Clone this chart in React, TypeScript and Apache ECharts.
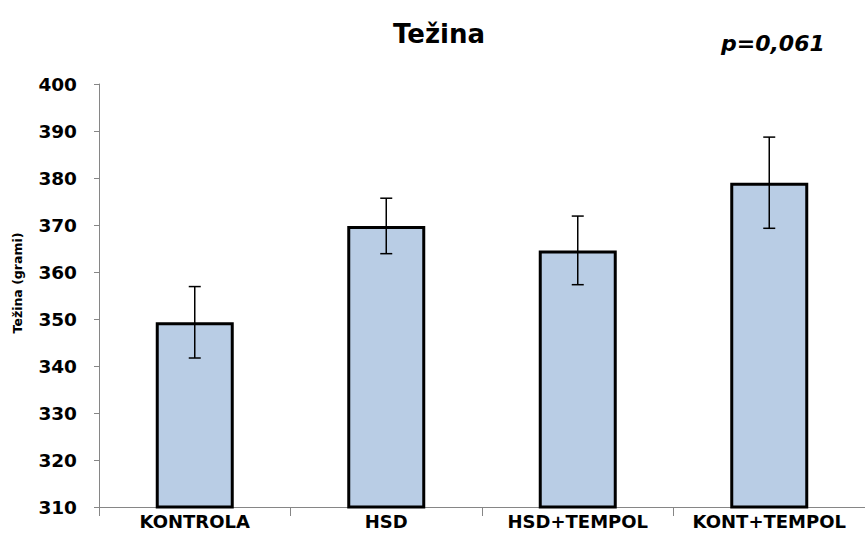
import React, { useEffect, useRef } from "react";
import * as echarts from "echarts";

const categories = ["KONTROLA", "HSD", "HSD+TEMPOL", "KONT+TEMPOL"];
const means = [349.3, 369.8, 364.6, 379.0];
const errors = [7.6, 5.9, 7.3, 9.7];
const yTicks = { min: 310, max: 400, interval: 10 };
const titleText = "Težina";
const pText = "p=0,061";
const yName = "Težina (grami)";

const FONT = "DejaVu Sans";

export default function App() {
  const ref = useRef<HTMLDivElement>(null);
  useEffect(() => {
    if (!ref.current) return;
    const chart = echarts.init(ref.current, undefined, { renderer: "svg" });
    const errData = means.map((m, i) => [i, m - errors[i], m + errors[i]]);
    chart.setOption({
      animation: false,
      backgroundColor: "#ffffff",
      title: {
        text: titleText,
        left: 388,
        top: 16,
        textStyle: { fontFamily: FONT, fontSize: 26, fontWeight: "bold", color: "#000" },
      },
      graphic: [
        {
          type: "text",
          left: 721,
          top: 32,
          style: { text: pText, font: `italic bold 22px '${FONT}'`, fill: "#000" },
        },
        {
          type: "text",
          x: 17,
          y: 283,
          rotation: Math.PI / 2,
          style: {
            text: yName,
            font: `bold 12.5px '${FONT}'`,
            fill: "#000",
            align: "center",
            verticalAlign: "middle",
          },
        },
      ],
      grid: { left: 99, top: 84, right: -6, bottom: 43, containLabel: false },
      xAxis: {
        type: "category",
        data: categories,
        axisLine: { lineStyle: { color: "#868686", width: 1 } },
        axisTick: { show: true, length: 9, alignWithLabel: false, lineStyle: { color: "#868686" } },
        axisLabel: {
          interval: 0,
          hideOverlap: false,
          fontFamily: FONT,
          fontSize: 18,
          fontWeight: "bold",
          color: "#000",
          margin: 5,
        },
      },
      yAxis: {
        type: "value",
        min: yTicks.min,
        max: yTicks.max,
        interval: yTicks.interval,
        splitLine: { show: false },
        axisLine: { show: true, lineStyle: { color: "#868686", width: 1 } },
        axisTick: { show: true, length: 5, lineStyle: { color: "#868686" } },
        axisLabel: { fontFamily: FONT, fontSize: 18.5, fontWeight: "bold", color: "#000", margin: 22 },
      },
      series: [
        {
          type: "bar",
          data: means,
          barWidth: 78,
          itemStyle: { color: "#b9cde5", borderColor: "#000", borderWidth: 3 },
        },
        {
          type: "custom",
          data: errData,
          z: 10,
          renderItem: (params: any, api: any) => {
            const x = api.value(0);
            const lo = api.coord([x, api.value(1)]);
            const hi = api.coord([x, api.value(2)]);
            const cx = lo[0];
            const hw = 6;
            const style = { stroke: "#000", lineWidth: 1.5 };
            return {
              type: "group",
              children: [
                { type: "line", shape: { x1: cx, y1: lo[1], x2: cx, y2: hi[1] }, style },
                { type: "line", shape: { x1: cx - hw, y1: lo[1], x2: cx + hw, y2: lo[1] }, style },
                { type: "line", shape: { x1: cx - hw, y1: hi[1], x2: cx + hw, y2: hi[1] }, style },
              ],
            };
          },
        },
      ],
    });
    return () => chart.dispose();
  }, []);
  return <div ref={ref} style={{ width: 865, height: 550, position: "absolute", left: 0, top: 0 }} />;
}
